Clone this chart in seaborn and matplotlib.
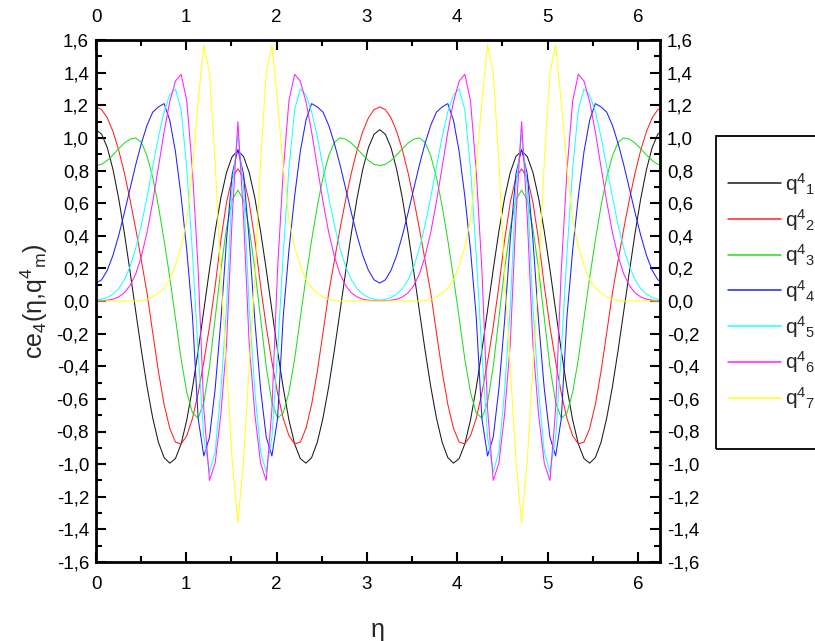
import numpy as np
import pandas as pd
import matplotlib
matplotlib.use('Agg')
import matplotlib.pyplot as plt
import seaborn as sns
from matplotlib.patches import Rectangle
from matplotlib.ticker import MultipleLocator, FuncFormatter

# valores lidos do grafico em eta = k*pi/50, k = 0..25 (um quarto de periodo)
# as curvas sao pares em torno de pi/2 e se repetem com periodo pi
passo = np.pi / 50

q1 = [1.05, 1.022, 0.939, 0.805, 0.628, 0.416, 0.181, -0.064, -0.304, -0.527,
      -0.718, -0.866, -0.960, -0.994, -0.966, -0.876, -0.729, -0.534, -0.306,
      -0.057, 0.193, 0.428, 0.631, 0.788, 0.886, 0.92]
q2 = [1.19, 1.173, 1.122, 1.038, 0.925, 0.785, 0.622, 0.442, 0.247, 0.047,
      -0.195, -0.432, -0.634, -0.781, -0.865, -0.876, -0.826, -0.72, -0.566,
      -0.373, -0.157, 0.092, 0.372, 0.604, 0.757, 0.81]
q3 = [0.83, 0.838, 0.862, 0.896, 0.934, 0.968, 0.992, 1.0, 0.972, 0.889,
      0.757, 0.582, 0.373, 0.144, -0.105, -0.357, -0.56, -0.686, -0.718,
      -0.622, -0.404, -0.105, 0.193, 0.445, 0.619, 0.68]
q4 = [0.11, 0.13, 0.189, 0.281, 0.402, 0.541, 0.689, 0.835, 0.967, 1.078,
      1.158, 1.19, 1.21, 1.108, 0.916, 0.641, 0.311, -0.093, -0.719, -0.95,
      -0.835, -0.538, -0.125, 0.375, 0.778, 0.93]
q5 = [0.005, 0.011, 0.022, 0.042, 0.076, 0.13, 0.211, 0.323, 0.467, 0.639,
      0.824, 1.006, 1.16, 1.263, 1.30, 1.173, 0.813, 0.292, -0.314, -0.835,
      -1.049, -0.925, -0.556, -0.042, 0.697, 1.02]
q6 = [0.001, 0.002, 0.005, 0.011, 0.025, 0.05, 0.094, 0.166, 0.274, 0.422,
      0.609, 0.821, 1.036, 1.222, 1.348, 1.39, 1.227, 0.799, 0.196, -0.662,
      -1.10, -0.994, -0.696, -0.266, 0.511, 1.10]
q7 = [0.0, 0.0, 0.0, 0.0, 0.0, 0.0, 0.0, 0.0, 0.003, 0.01,
      0.025, 0.05, 0.08, 0.13, 0.22, 0.33, 0.5, 0.82, 1.22, 1.57,
      1.40, 0.85, 0.15, -0.40, -0.98, -1.36]

rotulos = ['q$^4$$_1$', 'q$^4$$_2$', 'q$^4$$_3$', 'q$^4$$_4$',
           'q$^4$$_5$', 'q$^4$$_6$', 'q$^4$$_7$']
cores = ['#1a1a1a', '#ff2020', '#20dd20', '#2020ff', '#20ffff', '#ff20ff', '#ffff20']


def periodo_completo(quarto):
    """Monta 0..2pi a partir do quarto de periodo lido (simetria da curva)"""
    meio = list(quarto) + list(quarto[-2::-1])
    return meio + meio[1:]


linhas = []
for rotulo, quarto in zip(rotulos, [q1, q2, q3, q4, q5, q6, q7]):
    valores = periodo_completo(quarto)
    for k, v in enumerate(valores):
        linhas.append({'eta': k * passo, 'ce': v, 'serie': rotulo})
df = pd.DataFrame(linhas)

sns.set_style('ticks')
plt.rcParams['font.family'] = ['Liberation Sans', 'DejaVu Sans']
plt.rcParams['mathtext.fontset'] = 'custom'
plt.rcParams['mathtext.rm'] = 'Liberation Sans'
plt.rcParams['mathtext.it'] = 'Liberation Sans'
plt.rcParams['mathtext.default'] = 'regular'

fig = plt.figure(figsize=(8.15, 6.41), dpi=100)
ax = fig.add_axes([96 / 815, 1 - 562 / 641, (660 - 96) / 815, (562 - 40) / 641])

sns.lineplot(data=df, x='eta', y='ce', hue='serie', hue_order=rotulos,
             palette=dict(zip(rotulos, cores)), linewidth=0.75,
             estimator=None, sort=False, legend=False, ax=ax)

ax.set_xlim(0, 6.245)
ax.set_ylim(-1.6, 1.6)
ax.xaxis.set_major_locator(MultipleLocator(1))
ax.xaxis.set_minor_locator(MultipleLocator(0.5))
ax.yaxis.set_major_locator(MultipleLocator(0.2))
ax.yaxis.set_minor_locator(MultipleLocator(0.1))
ax.xaxis.set_major_formatter(FuncFormatter(lambda v, p: '%d' % round(v)))
ax.yaxis.set_major_formatter(FuncFormatter(
    lambda v, p: ('%.1f' % v).replace('.', ',').replace('-0,0', '0,0')))

ax.tick_params(which='both', direction='in', top=True, right=True,
               labeltop=True, labelright=True, labelsize=13.5, width=1.5,
               color='black', labelcolor='black')
ax.tick_params(which='major', length=7)
ax.tick_params(which='minor', length=4)
ax.tick_params(axis='x', pad=10)
ax.tick_params(axis='y', pad=5)
for s in ax.spines.values():
    s.set_linewidth(2)
    s.set_color('black')

ax.set_xlabel('η', fontsize=18, labelpad=18)
ax.set_ylabel('ce$_4$(η,q$^4$$_m$)', fontsize=18, labelpad=5)

# legenda (moldura cortada na borda direita, como no original)
leg = ax.legend(ax.lines[:7], rotulos, loc='upper left',
                bbox_to_anchor=(728 / 815, 1 - 171 / 641),
                bbox_transform=fig.transFigure, frameon=False, fontsize=15,
                handlelength=2.55, handletextpad=0.2, labelspacing=0.47,
                borderpad=0, borderaxespad=0)
for h in leg.get_lines():
    h.set_linewidth(1.1)
fig.add_artist(Rectangle((716 / 815, 1 - 449 / 641), 0.2, (449 - 136) / 641,
                         transform=fig.transFigure, fill=False,
                         edgecolor='black', linewidth=1.3, clip_on=False))

fig.savefig('out.png', dpi=100)
plt.close()
